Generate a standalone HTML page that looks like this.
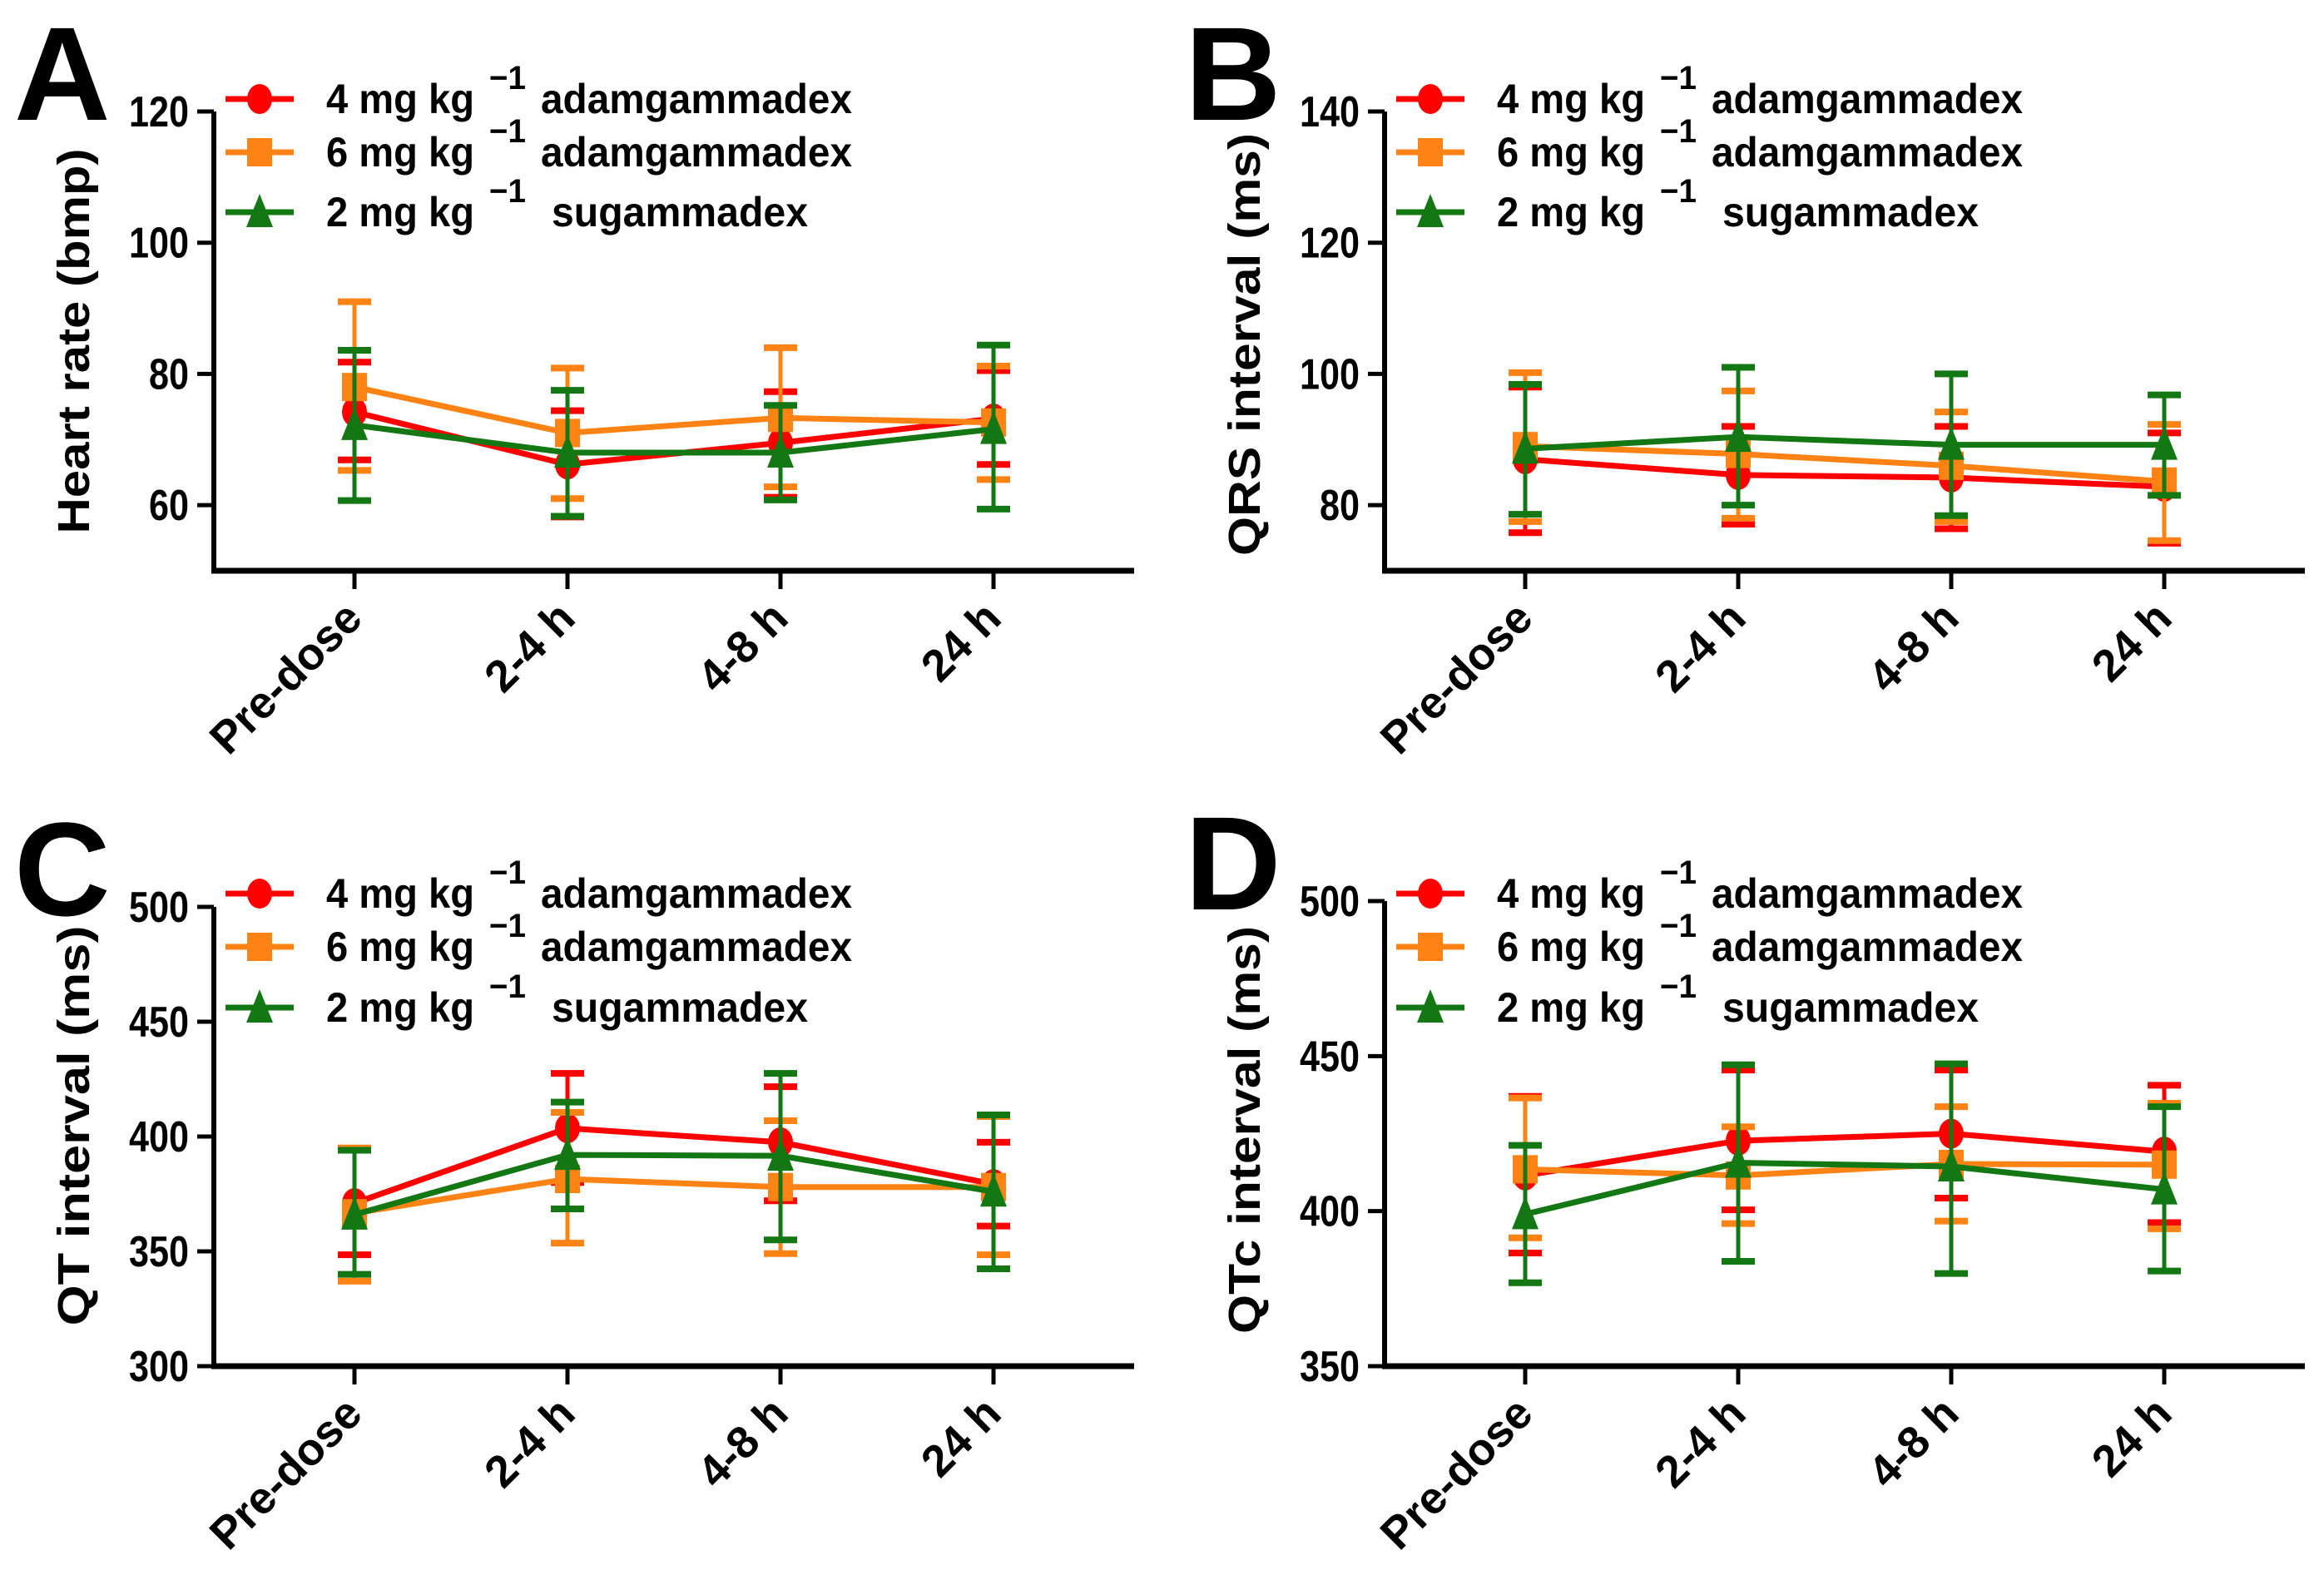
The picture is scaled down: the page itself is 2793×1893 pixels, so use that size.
<!DOCTYPE html>
<html><head><meta charset="utf-8"><style>
html,body{margin:0;padding:0;background:#fff;}
svg{display:block;}
text{font-family:"Liberation Sans Narrow","Liberation Sans",sans-serif;font-weight:bold;fill:#000;}
.t{font-family:"Liberation Sans",sans-serif;}
</style></head><body>
<svg id="fig" width="2793" height="1893" viewBox="0 0 2793 1893" xmlns="http://www.w3.org/2000/svg"></svg>
<script>
const categories = ["Pre-dose","2-4 h","4-8 h","24 h"];
const seriesNames = ["4 mg kg","6 mg kg","2 mg kg"];
const seriesDrugs = ["adamgammadex","adamgammadex","sugammadex"];
// Panel A heart rate
const aRed = [74.2,66.2,69.5,73.2];
const aRedHi = [81.8,74.4,77.3,80.5];
const aRedLo = [66.9,58.2,61.2,66.2];
const aOrange = [78,71,73.3,72.6];
const aOrangeHi = [91,80.9,84,81.2];
const aOrangeLo = [65.3,61,62.8,63.9];
const aGreen = [72.2,68,68,71.6];
const aGreenHi = [83.6,77.5,75.2,84.4];
const aGreenLo = [60.7,58.3,60.8,59.4];
const aTicks = [60,80,100,120];
// Panel B QRS
const bRed = [87,84.6,84.2,82.8];
const bRedHi = [98,92,92,91];
const bRedLo = [75.8,77.1,76.4,74.2];
const bOrange = [89,87.8,86,83.6];
const bOrangeHi = [100.2,97.4,94.2,92.3];
const bOrangeLo = [77.5,78,77.5,74.6];
const bGreen = [88.6,90.4,89.2,89.2];
const bGreenHi = [98.4,101,100,96.8];
const bGreenLo = [78.6,80,78.4,81.5];
const bTicks = [80,100,120,140];
// Panel C QT
const cRed = [371,403.6,397.5,379.3];
const cRedHi = [394,427.5,421.7,397.5];
const cRedLo = [348.5,380,372,361];
const cOrange = [366.6,381.5,378,378];
const cOrangeHi = [395,410.5,406.9,408.7];
const cOrangeLo = [337,353.6,349,348.5];
const cGreen = [366,392,391.6,376];
const cGreenHi = [394,415,427.5,409.4];
const cGreenLo = [340,368.5,355,342.4];
const cTicks = [300,350,400,450,500];
// Panel D QTc
const dRed = [411.5,422.7,425,419.2];
const dRedHi = [437,445.5,445.5,440.6];
const dRedLo = [386.5,400.4,404.2,396.3];
const dOrange = [413.5,411.5,415.2,415];
const dOrangeHi = [436.5,427.2,433.7,434.8];
const dOrangeLo = [391.4,396,396.8,394.3];
const dGreen = [399,415.6,414.4,407];
const dGreenHi = [421.2,447.2,447.5,433.7];
const dGreenLo = [376.9,383.8,379.9,380.7];
const dTicks = [350,400,450,500];

const NS = "http://www.w3.org/2000/svg";
const svg = document.getElementById('fig');
const COLORS = ["#ff0000","#ff8214","#137813"];
function mk(tag, attrs, parent){
  const e = document.createElementNS(NS, tag);
  for (const k in attrs) e.setAttribute(k, attrs[k]);
  (parent||svg).appendChild(e);
  return e;
}
function marker(g, kind, x, y, color){
  let m;
  if (kind===0) m = mk('ellipse',{cx:x,cy:y,rx:15,ry:18,fill:color},g);
  else if (kind===1) m = mk('rect',{x:x-15,y:y-17,width:30,height:34,fill:color},g);
  else m = mk('polygon',{points:`${x},${y-22} ${x-16},${y+18} ${x+16},${y+18}`,fill:color},g);
  return m;
}
function panel(p){
  const g = mk('g',{});
  
  
  const yS = v => p.yBot - (v - p.min)/(p.max - p.min)*(p.yBot - p.yTop);
  const xS = i => p.x0 + 169 + 256*i;
  const L = mk('text',{x:p.x0-240,y:p.yTop+10,'font-size':160,class:'t'},g);
  
  
  L.textContent = p.letter;
  const ya = mk('line',{x1:p.x0,y1:yS(p.ticks[p.ticks.length-1]),x2:p.x0,y2:p.yBot,stroke:'#000','stroke-width':6},g);
  
  
  const xa = mk('line',{x1:p.x0-3,y1:p.yBot,x2:p.x0+1106,y2:p.yBot,stroke:'#000','stroke-width':7},g);
  
  
  p.ticks.forEach(t=>{
    const y = yS(t);
    mk('line',{x1:p.x0-20,y1:y,x2:p.x0,y2:y,stroke:'#000','stroke-width':5},g);
    const s = String(t);
    const tl = mk('text',{x:p.x0-30,y:y+18,'font-size':52,'text-anchor':'end',textLength:24*s.length,lengthAdjust:'spacingAndGlyphs'},g);
    
    
    tl.textContent = s;
  });
  categories.forEach((c,i)=>{
    const x = xS(i);
    mk('line',{x1:x,y1:p.yBot,x2:x,y2:p.yBot+22,stroke:'#000','stroke-width':5},g);
    const ax = x+12, ay = p.yBot+60;
    const tl = mk('text',{x:ax,y:ay,'font-size':54,'text-anchor':'end',class:'t',transform:`rotate(-45 ${ax} ${ay})`},g);
    
    
    tl.textContent = c;
  });
  const yt = mk('text',{x:0,y:0,'font-size':54,class:'t','text-anchor':'middle',textLength:p.tLen,lengthAdjust:'spacingAndGlyphs',transform:`translate(${p.x0-150} ${p.tCy}) rotate(-90)`},g);
  
  
  yt.textContent = p.title;
  p.series.forEach((s,k)=>{
    const sg = mk('g',{},g);
    
    
    const col = COLORS[k];
    s.m.forEach((v,i)=>{
      const x = xS(i);
      const eb = mk('line',{x1:x,y1:yS(s.hi[i]),x2:x,y2:yS(s.lo[i]),stroke:col,'stroke-width':5},sg);
      
      
      [s.hi[i],s.lo[i]].forEach(e=>{
        const cap = mk('line',{x1:x-20,y1:yS(e),x2:x+20,y2:yS(e),stroke:col,'stroke-width':8},sg);
        
        
      });
    });
    const pl = mk('polyline',{points:s.m.map((v,i)=>xS(i)+','+yS(v)).join(' '),fill:'none',stroke:col,'stroke-width':7},sg);
    
    
    s.m.forEach((v,i)=>{
      const mm = marker(sg,k,xS(i),yS(v),col);
      
      
    });
  });
  const lg = mk('g',{},g);
  
  
  p.legY.forEach((ly,k)=>{
    const eg = mk('g',{},lg);
    
    
    const lx = p.x0 + 14;
    mk('line',{x1:lx,y1:ly,x2:lx+82,y2:ly,stroke:COLORS[k],'stroke-width':7},eg);
    marker(eg,k,lx+41,ly,COLORS[k]);
    const t = mk('text',{x:lx+121,y:ly+17,'font-size':50,textLength:178,lengthAdjust:'spacingAndGlyphs'},eg);
    t.textContent = seriesNames[k];
    const sup = mk('text',{x:lx+317,y:ly-12,'font-size':40,textLength:44,lengthAdjust:'spacingAndGlyphs'},eg);
    sup.textContent = '\u22121';
    const isSug = k===2;
    const d = mk('text',{x:lx+(isSug?392:379),y:ly+17,'font-size':50,textLength:(isSug?308:374),lengthAdjust:'spacingAndGlyphs'},eg);
    d.textContent = seriesDrugs[k];
  });
}
panel({letter:'A',x0:257,yTop:134,yBot:686,min:50,max:120,ticks:aTicks,title:'Heart rate (bmp)',tLen:463,tCy:410,legY:[119,183,255],
  series:[{m:aRed,hi:aRedHi,lo:aRedLo},{m:aOrange,hi:aOrangeHi,lo:aOrangeLo},{m:aGreen,hi:aGreenHi,lo:aGreenLo}]});
panel({letter:'B',x0:1664,yTop:134,yBot:686,min:70,max:140,ticks:bTicks,title:'QRS interval (ms)',tLen:508,tCy:414,legY:[119,183,255],
  series:[{m:bRed,hi:bRedHi,lo:bRedLo},{m:bOrange,hi:bOrangeHi,lo:bOrangeLo},{m:bGreen,hi:bGreenHi,lo:bGreenLo}]});
panel({letter:'C',x0:257,yTop:1090,yBot:1642,min:300,max:500,ticks:cTicks,title:'QT interval (ms)',tLen:481,tCy:1353,legY:[1074,1138,1211],
  series:[{m:cRed,hi:cRedHi,lo:cRedLo},{m:cOrange,hi:cOrangeHi,lo:cOrangeLo},{m:cGreen,hi:cGreenHi,lo:cGreenLo}]});
panel({letter:'D',x0:1664,yTop:1083,yBot:1642,min:350,max:500,ticks:dTicks,title:'QTc interval (ms)',tLen:490,tCy:1358,legY:[1074,1138,1211],
  series:[{m:dRed,hi:dRedHi,lo:dRedLo},{m:dOrange,hi:dOrangeHi,lo:dOrangeLo},{m:dGreen,hi:dGreenHi,lo:dGreenLo}]});
</script>
</body></html>
